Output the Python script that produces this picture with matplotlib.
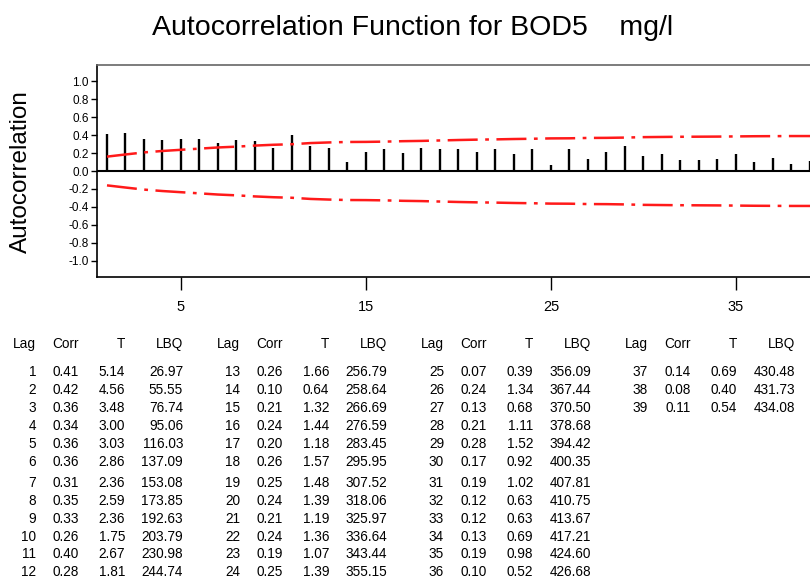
import matplotlib.pyplot as plt
from matplotlib import font_manager

plt.rcParams['axes.unicode_minus'] = False

names = {f.name for f in font_manager.fontManager.ttflist}
narrow = 'Liberation Sans Narrow' if 'Liberation Sans Narrow' in names else 'Liberation Sans'

# ACF table values
lags = list(range(1, 40))
corr = [0.41, 0.42, 0.36, 0.34, 0.36, 0.36, 0.31, 0.35, 0.33, 0.26, 0.40, 0.28,
        0.26, 0.10, 0.21, 0.24, 0.20, 0.26, 0.25, 0.24, 0.21, 0.24, 0.19, 0.25,
        0.07, 0.24, 0.13, 0.21, 0.28, 0.17, 0.19, 0.12, 0.12, 0.13, 0.19, 0.10,
        0.14, 0.08, 0.11]
tstat = [5.14, 4.56, 3.48, 3.00, 3.03, 2.86, 2.36, 2.59, 2.36, 1.75, 2.67, 1.81,
         1.66, 0.64, 1.32, 1.44, 1.18, 1.57, 1.48, 1.39, 1.19, 1.36, 1.07, 1.39,
         0.39, 1.34, 0.68, 1.11, 1.52, 0.92, 1.02, 0.63, 0.63, 0.69, 0.98, 0.52,
         0.69, 0.40, 0.54]
lbq = [26.97, 55.55, 76.74, 95.06, 116.03, 137.09, 153.08, 173.85, 192.63, 203.79, 230.98, 244.74,
       256.79, 258.64, 266.69, 276.59, 283.45, 295.95, 307.52, 318.06, 325.97, 336.64, 343.44, 355.15,
       356.09, 367.44, 370.50, 378.68, 394.42, 400.35, 407.81, 410.75, 413.67, 417.21, 424.60, 426.68,
       430.48, 431.73, 434.08]
# upper significance limit (lower is the mirror)
limit = [0.160, 0.184, 0.207, 0.223, 0.236, 0.249, 0.262, 0.271, 0.283, 0.292, 0.298, 0.311,
         0.318, 0.323, 0.324, 0.327, 0.332, 0.335, 0.340, 0.345, 0.349, 0.352, 0.356, 0.359,
         0.363, 0.364, 0.368, 0.369, 0.372, 0.377, 0.379, 0.381, 0.382, 0.383, 0.385, 0.387,
         0.388, 0.389, 0.389]
xticks = [5, 15, 25, 35]
yticks = [-1.0, -0.8, -0.6, -0.4, -0.2, 0.0, 0.2, 0.4, 0.6, 0.8, 1.0]

W, H = 810, 581
fig = plt.figure(figsize=(8.1, 5.81), dpi=100)
ax = fig.add_axes([97 / W, (H - 277) / H, 750 / W, 212 / H])

ax.vlines(lags, 0, corr, color='black', lw=1.7)
ax.axhline(0, color='black', lw=1.5)
ax.plot(lags, limit, color='#ff1a1a', lw=1.8, dashes=(12, 3, 1.5, 3))
ax.plot(lags, [-v for v in limit], color='#ff1a1a', lw=1.8, dashes=(12, 3, 1.5, 3))

ax.set_xlim(0.46, 41)
ax.set_ylim(-1.18, 1.18)
ax.set_xticks(xticks)
ax.set_xticklabels([str(v) for v in xticks], fontsize=10.5, family=narrow)
ax.set_yticks(yticks)
ax.set_yticklabels([f'{v:.1f}' for v in yticks], fontsize=8.5, family='Liberation Sans')
ax.tick_params(axis='x', length=9.5, width=1, pad=7)
ax.tick_params(axis='y', length=4, width=1, pad=2)
ax.spines['right'].set_visible(False)
ax.spines['top'].set_color('#666666')
for s in ['left', 'bottom', 'top']:
    ax.spines[s].set_linewidth(1.2)

fig.text(21 / W, 1 - 172 / H, 'Autocorrelation', rotation=90, ha='center', va='center',
         fontsize=17.5, family='Liberation Sans')
fig.text(413 / W, 1 - 28 / H, 'Autocorrelation Function for BOD5    mg/l',
         ha='center', va='center', fontsize=20.5, family=narrow)

# table
def px(x, y, s):
    fig.text(x / W, 1 - y / H, s, ha='right', va='center', fontsize=9.8,
             family='Liberation Sans')

cols = [36, 79, 125, 183]
step = 204
for g in range(4):
    off = g * step
    for c, h in zip(cols, ['Lag', 'Corr', 'T', 'LBQ']):
        px(c + off, 344, h)
    for i in range(12):
        k = g * 12 + i
        if k >= len(lags):
            break
        y = 372 + 17.9 * i + (3.5 if i >= 6 else 0)
        px(cols[0] + off, y, str(lags[k]))
        px(cols[1] + off, y, f'{corr[k]:.2f}')
        px(cols[2] + off, y, f'{tstat[k]:.2f}')
        px(cols[3] + off, y, f'{lbq[k]:.2f}')

fig.savefig('out.png', dpi=100)
